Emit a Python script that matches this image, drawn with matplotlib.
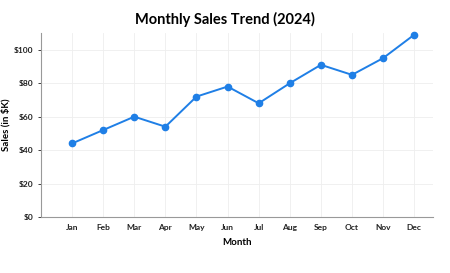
import matplotlib.pyplot as plt

months = ['Jan', 'Feb', 'Mar', 'Apr', 'May', 'Jun', 'Jul', 'Aug', 'Sep', 'Oct', 'Nov', 'Dec']
sales = [44, 52, 60, 54, 72, 78, 68, 80, 91, 85, 95, 109]
yticks = [0, 20, 40, 60, 80, 100]

plt.rcParams['font.family'] = ['Lato', 'DejaVu Sans']

fig = plt.figure(figsize=(4.5, 2.73), dpi=100)
ax = fig.add_axes([0.091, 0.205, 0.871, 0.674])

x = list(range(len(months)))
ax.plot(x, sales, color='#1f7fe6', linewidth=1.4, marker='o', markersize=4.5, clip_on=False)

ax.set_xlim(-1, 11.6)
ax.set_ylim(0, 110)
ax.set_xticks(x)
ax.set_xticklabels(months)
ax.set_yticks(yticks)
ax.set_yticklabels([f'${v}' for v in yticks])
ax.tick_params(axis='both', labelsize=6, colors='#222222', length=2, width=0.6)
ax.tick_params(axis='x', length=0, pad=5)
for lab in ax.get_xticklabels() + ax.get_yticklabels():
    lab.set_fontweight('bold')

ax.grid(True, color='#eeeeee', linewidth=0.6)
ax.set_axisbelow(True)
for s in ['top', 'right']:
    ax.spines[s].set_visible(False)
for s in ['left', 'bottom']:
    ax.spines[s].set_color('#999999')
    ax.spines[s].set_linewidth(0.8)

ax.set_xlabel('Month', fontsize=7, fontweight='bold', labelpad=5)
ax.set_ylabel('Sales (in $K)', fontsize=7, fontweight='bold')
ax.yaxis.set_label_coords(-0.079, 0.5)
fig.suptitle('Monthly Sales Trend (2024)', x=0.5, y=0.955, fontsize=10.5, fontweight='bold')

fig.savefig('out.png', dpi=100)
